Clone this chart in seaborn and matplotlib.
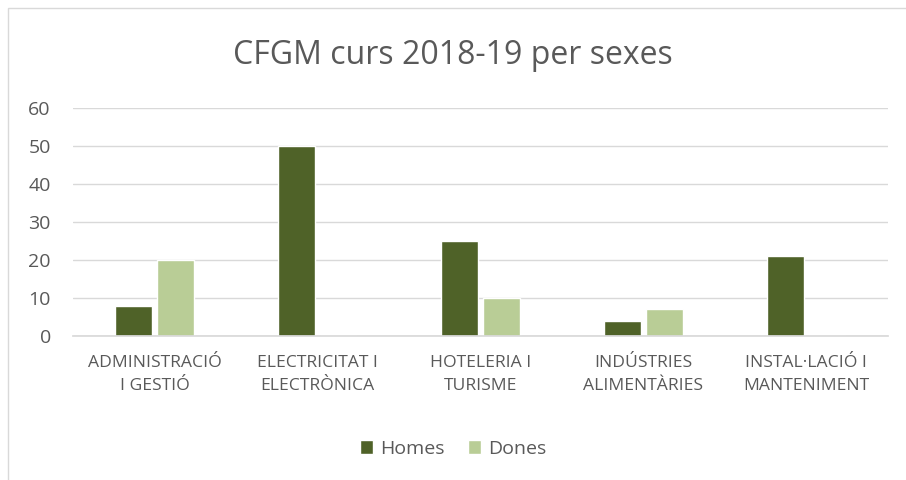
import pandas as pd
import seaborn as sns
import matplotlib.pyplot as plt
from matplotlib.patches import Rectangle

# Data
categories = ['ADMINISTRACIÓ\nI GESTIÓ', 'ELECTRICITAT I\nELECTRÒNICA', 'HOTELERIA I\nTURISME',
              'INDÚSTRIES\nALIMENTÀRIES', 'INSTAL·LACIÓ I\nMANTENIMENT']
homes = [8, 50, 25, 4, 21]
dones = [20, 0, 10, 7, 0]
series = ['Homes', 'Dones']
colors = ['#4F6228', '#B9CD96']

df = pd.DataFrame({
    'cat': categories * 2,
    'sexe': [series[0]] * len(categories) + [series[1]] * len(categories),
    'val': homes + dones,
})

sns.set_theme(style='white')
plt.rcParams['font.family'] = ['Open Sans', 'DejaVu Sans']
text_col = '#595959'

fig = plt.figure(figsize=(9.06, 4.8), dpi=100)
ax = fig.add_axes([0.0806, 0.30, 0.8994, 0.475])

sns.barplot(data=df, x='cat', y='val', hue='sexe', palette=colors,
            width=0.51, gap=0.1, saturation=1, ax=ax, legend=True)

ax.set_ylim(0, 60)
ax.set_yticks(range(0, 61, 10))
ax.set_xlim(-0.5, len(categories) - 0.5)
ax.grid(axis='y', color='#D9D9D9', linewidth=1)
ax.set_axisbelow(True)
for s in ['top', 'right', 'left']:
    ax.spines[s].set_visible(False)
ax.spines['bottom'].set_color('#D9D9D9')
ax.set_xlabel('')
ax.set_ylabel('')
ax.tick_params(axis='both', length=0, colors=text_col)
ax.tick_params(axis='y', pad=16, labelsize=14)
ax.tick_params(axis='x', pad=14, labelsize=12.6)
for lbl in ax.get_xticklabels():
    lbl.set_ha('center')
    lbl.set_multialignment('center')
    lbl.set_linespacing(1.55)

fig.text(0.5, 0.885, 'CFGM curs 2018-19 per sexes', ha='center', va='center',
         fontsize=23, color=text_col)

ax.legend(loc='center', bbox_to_anchor=(0.5, 0.065), bbox_transform=fig.transFigure,
          ncol=2, frameon=False, fontsize=14, labelcolor=text_col,
          handlelength=0.7, handleheight=0.7, handletextpad=0.35, columnspacing=1.2)

fig.patches.append(Rectangle((8 / 906, -0.01), 1.0, 1 - 8 / 480 + 0.01,
                             transform=fig.transFigure, fill=False,
                             edgecolor='#D9D9D9', linewidth=1))

fig.savefig('out.png', dpi=100)
